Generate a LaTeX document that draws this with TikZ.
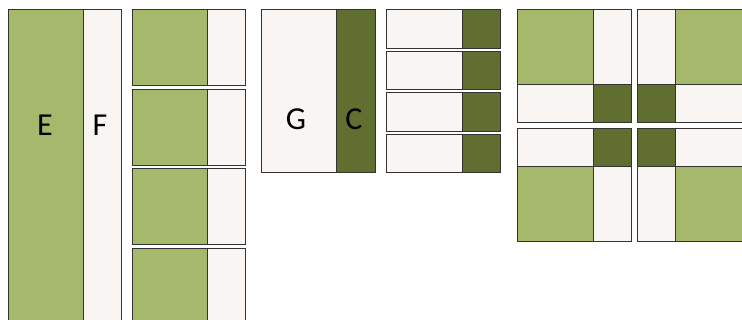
\documentclass[tikz,border=0pt]{standalone}
\usepackage{fontspec}
\setmainfont{Carlito}
\usetikzlibrary{calc}

\definecolor{leaf}{HTML}{A5B86C}
\definecolor{moss}{HTML}{606F2F}
\definecolor{cream}{HTML}{F8F5F2}

\begin{document}
\begin{tikzpicture}[x=1pt, y=-1pt]

        % 0. Page size (pixels of the reference, y runs downwards)
        \useasboundingbox (0,0) rectangle (742,320);
        \clip (0,0) rectangle (742,320);

        \tikzset{patch/.style={draw=black!80, line width=1pt}}
        \tikzset{letter/.style={font=\fontsize{32}{32}\selectfont, anchor=base, inner sep=0pt}}

        % 1. Strip set E | F (runs off the bottom)
        \filldraw[patch, fill=leaf]  (8,10)  rectangle (83,330);
        \filldraw[patch, fill=cream] (83,10) rectangle (121,330);
        \node[letter] (labE) at (45,136) {E};
        \node[letter] (labF) at (100,136) {F};

        % 2. Cut units E | F
        \foreach \top in {10, 89.5, 169, 248.5} {
            \filldraw[patch, fill=leaf]  (132,\top) rectangle (207,\top+76);
            \filldraw[patch, fill=cream] (207,\top) rectangle (245,\top+76);
        }

        % 3. Strip set G | C
        \filldraw[patch, fill=cream] (261,10) rectangle (336,173);
        \filldraw[patch, fill=moss]  (336,10) rectangle (375,173);
        \node[letter] (labG) at (296,130) {G};
        \node[letter] (labC) at (354,130) {C};

        % 4. Cut units G | C
        \foreach \top in {10, 51.5, 93, 134.5} {
            \filldraw[patch, fill=cream] (386,\top) rectangle (462,\top+38.5);
            \filldraw[patch, fill=moss]  (462,\top) rectangle (500,\top+38.5);
        }

        % 5. Four blocks around the centre
        % top left
        \filldraw[patch, fill=leaf]  (517,10)  rectangle (593,85);
        \filldraw[patch, fill=cream] (593,10)  rectangle (631,85);
        \filldraw[patch, fill=cream] (517,85)  rectangle (593,123);
        \filldraw[patch, fill=moss]  (593,85)  rectangle (631,123);
        % top right
        \filldraw[patch, fill=cream] (637,10)  rectangle (675,85);
        \filldraw[patch, fill=leaf]  (675,10)  rectangle (751,85);
        \filldraw[patch, fill=moss]  (637,85)  rectangle (675,123);
        \filldraw[patch, fill=cream] (675,85)  rectangle (751,123);
        % bottom left
        \filldraw[patch, fill=cream] (517,129) rectangle (593,167);
        \filldraw[patch, fill=moss]  (593,129) rectangle (631,167);
        \filldraw[patch, fill=leaf]  (517,167) rectangle (593,242);
        \filldraw[patch, fill=cream] (593,167) rectangle (631,242);
        % bottom right
        \filldraw[patch, fill=moss]  (637,129) rectangle (675,167);
        \filldraw[patch, fill=cream] (675,129) rectangle (751,167);
        \filldraw[patch, fill=cream] (637,167) rectangle (675,242);
        \filldraw[patch, fill=leaf]  (675,167) rectangle (751,242);

    \end{tikzpicture}
\end{document}
